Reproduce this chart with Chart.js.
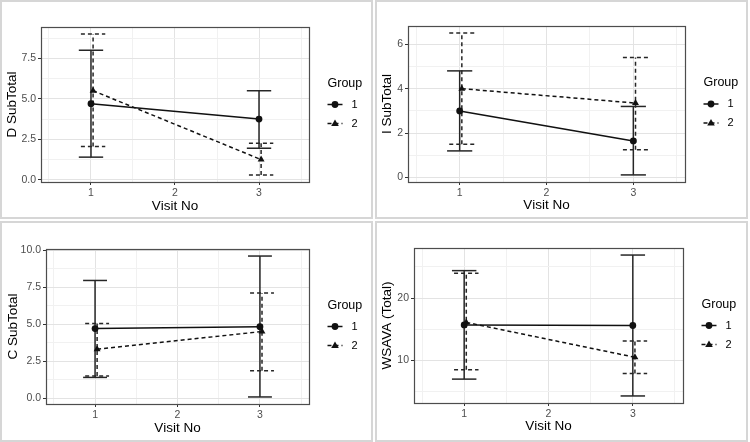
<!DOCTYPE html>
<html><head><meta charset="utf-8">
<script src="https://cdn.jsdelivr.net/npm/chart.js@4.4.1/dist/chart.umd.min.js"></script>
<style>
html,body{margin:0;padding:0;background:#fff;}
#wrap{position:relative;width:750px;height:442px;overflow:hidden;background:#fff;}
.frame{position:absolute;border:2px solid #d6d6d6;box-sizing:border-box;}
canvas{position:absolute;}
</style></head><body>
<div id="wrap">
  <div class="frame" style="left:0;top:0;width:373px;height:219px"></div>
  <div class="frame" style="left:375px;top:0;width:373px;height:219px"></div>
  <div class="frame" style="left:0;top:221px;width:373px;height:221px"></div>
  <div class="frame" style="left:375px;top:221px;width:373px;height:221px"></div>
  <canvas id="c1" width="375" height="221" style="left:0;top:0"></canvas>
  <canvas id="c2" width="375" height="221" style="left:375px;top:0"></canvas>
  <canvas id="c3" width="375" height="221" style="left:0;top:221px"></canvas>
  <canvas id="c4" width="375" height="221" style="left:375px;top:221px"></canvas>
</div>
<script>
// ---------- data ----------
const visits = [1, 3];
const groupNames = ['1', '2'];
const xLimits = [0.55, 3.45];
const xTickLabels = [1, 2, 3];

// D SubTotal
const dMean1 = [4.7, 3.75], dLow1 = [1.4, 1.95], dHigh1 = [8.0, 5.5];
const dMean2 = [5.5, 1.25], dLow2 = [2.05, 0.3], dHigh2 = [9.0, 2.25];
// I SubTotal
const iMean1 = [3.0, 1.65], iLow1 = [1.2, 0.12], iHigh1 = [4.8, 3.2];
const iMean2 = [4.0, 3.35], iLow2 = [1.5, 1.25], iHigh2 = [6.5, 5.4];
// C SubTotal
const cMean1 = [4.7, 4.83], cLow1 = [1.4, 0.08], cHigh1 = [7.95, 9.6];
const cMean2 = [3.3, 4.5], cLow2 = [1.5, 1.85], cHigh2 = [5.05, 7.1];
// WSAVA (Total)
const wMean1 = [15.7, 15.6], wLow1 = [7.0, 4.3], wHigh1 = [24.4, 26.9];
const wMean2 = [16.1, 10.5], wLow2 = [8.5, 7.9], wHigh2 = [24.0, 13.1];

// ---------- styling ----------
const FONT = "'Liberation Sans', Arial, Helvetica, sans-serif";
const DODGE = [0, 0.025];
const CAP = 0.29;
const DASH = [4, 3];
const INK = '#111111';
const LW = 1.5;

function isMult(v, m) { return Math.abs(v / m - Math.round(v / m)) < 1e-6; }

const errPlugin = {
  id: 'errbars',
  beforeDatasetsDraw(chart) {
    const {ctx, scales: {x, y}} = chart;
    chart.data.datasets.forEach((ds) => {
      ctx.save();
      ctx.strokeStyle = '#262626';
      ctx.lineWidth = LW;
      ctx.setLineDash(ds.borderDash || []);
      ds.data.forEach((p, k) => {
        const px = x.getPixelForValue(p.x);
        const xl = x.getPixelForValue(p.x - CAP / 2), xr = x.getPixelForValue(p.x + CAP / 2);
        const yl = y.getPixelForValue(ds.errLow[k]), yh = y.getPixelForValue(ds.errHigh[k]);
        ctx.beginPath();
        ctx.moveTo(px, yl); ctx.lineTo(px, yh);
        ctx.stroke();
        ctx.beginPath();
        ctx.moveTo(xl, yh); ctx.lineTo(xr, yh);
        ctx.stroke();
        ctx.beginPath();
        ctx.moveTo(xl, yl); ctx.lineTo(xr, yl);
        ctx.stroke();
      });
      ctx.restore();
    });
  },
  afterDraw(chart) {
    const {ctx, chartArea: a} = chart;
    ctx.save();
    ctx.strokeStyle = '#4d4d4d';
    ctx.lineWidth = 1.2;
    ctx.strokeRect(Math.round(a.left) + 0.5, Math.round(a.top) + 0.5,
                   Math.round(a.right - a.left), Math.round(a.bottom - a.top));
    // legend
    const lx = a.right + 18.5;
    const yc = (a.top + a.bottom) / 2;
    ctx.fillStyle = '#000';
    ctx.font = '12.5px ' + FONT;
    ctx.textBaseline = 'middle';
    ctx.textAlign = 'left';
    ctx.fillText('Group', lx, yc - 21);
    chart.data.datasets.forEach((ds, i) => {
      const ky = yc + i * 19;
      ctx.strokeStyle = INK;
      ctx.lineWidth = LW;
      ctx.setLineDash(ds.borderDash || []);
      ctx.beginPath(); ctx.moveTo(lx, ky); ctx.lineTo(lx + 15, ky); ctx.stroke();
      ctx.setLineDash([]);
      ctx.fillStyle = INK;
      const cx = lx + 7.5;
      ctx.beginPath();
      if (ds.pointStyle === 'triangle') {
        const r = 4;
        ctx.moveTo(cx, ky - r); ctx.lineTo(cx + r * 0.95, ky + r * 0.65); ctx.lineTo(cx - r * 0.95, ky + r * 0.65);
        ctx.closePath();
      } else {
        ctx.arc(cx, ky, 3.4, 0, Math.PI * 2);
      }
      ctx.fill();
      ctx.fillStyle = '#000';
      ctx.font = '11px ' + FONT;
      ctx.fillText(ds.label, lx + 24, ky);
    });
    ctx.restore();
  }
};

function series(label, mean, low, high, gi) {
  return {
    label: label,
    data: visits.map((v, k) => ({x: v + DODGE[gi], y: mean[k]})),
    errLow: low, errHigh: high,
    borderColor: INK, backgroundColor: INK,
    borderWidth: LW,
    borderDash: gi === 1 ? DASH : [],
    pointStyle: gi === 1 ? 'triangle' : 'circle',
    pointRadius: gi === 1 ? 4 : 3.4,
    pointBackgroundColor: INK, pointBorderColor: INK, pointBorderWidth: 0,
    showLine: true, tension: 0, clip: false
  };
}

function makePanel(id, yTitle, sets, box, yStep, yMajor, yFmt) {
  const lows = sets.flatMap(s => s.errLow), highs = sets.flatMap(s => s.errHigh);
  const lo = Math.min(...lows), hi = Math.max(...highs), r = hi - lo;
  const xr = xLimits[1] - xLimits[0];
  const gridColor = c => (c.tick && isMult(c.tick.value, c.scale.axis === 'x' ? 1 : yMajor)) ? '#e3e3e3' : '#f1f1f1';
  const tickColor = c => (c.tick && isMult(c.tick.value, c.scale.axis === 'x' ? 1 : yMajor)) ? '#333333' : 'rgba(0,0,0,0)';
  new Chart(document.getElementById(id), {
    type: 'line',
    data: {datasets: sets},
    options: {
      animation: false, responsive: false, devicePixelRatio: 1,
      layout: {padding: {left: 0, top: box.top, right: 375 - box.right, bottom: 0}},
      plugins: {legend: {display: false}, tooltip: {enabled: false}},
      scales: {
        x: {
          type: 'linear',
          min: xLimits[0] - 0.05 * xr, max: xLimits[1] + 0.05 * xr,
          afterFit: s => { s.height = 221 - box.bottom; },
          ticks: {stepSize: 0.5, includeBounds: false, autoSkip: false, maxRotation: 0,
                  padding: 1.5, color: '#4d4d4d', font: {family: FONT, size: 10.5},
                  callback: v => xTickLabels.includes(v) ? String(v) : ''},
          grid: {color: gridColor, lineWidth: 1, tickLength: 3, tickColor: tickColor, tickWidth: 1},
          border: {display: false},
          title: {display: true, text: 'Visit No', color: '#000',
                  font: {family: FONT, size: 13.5}, padding: {top: 0, bottom: box.xtPad}}
        },
        y: {
          type: 'linear',
          min: lo - 0.05 * r, max: hi + 0.05 * r,
          afterFit: s => { s.width = box.left; },
          ticks: {stepSize: yStep, includeBounds: false, autoSkip: false,
                  padding: 2, color: '#4d4d4d', font: {family: FONT, size: 10.5},
                  callback: v => isMult(v, yMajor) ? yFmt(v) : ''},
          grid: {color: gridColor, lineWidth: 1, tickLength: 3, tickColor: tickColor, tickWidth: 1},
          border: {display: false},
          title: {display: true, text: yTitle, color: '#000',
                  font: {family: FONT, size: 13.5}, padding: {top: box.ytPad, bottom: 0}}
        }
      }
    },
    plugins: [errPlugin]
  });
}

const f1 = v => v.toFixed(1), f0 = v => String(Math.round(v));

makePanel('c1', 'D SubTotal',
  [series(groupNames[0], dMean1, dLow1, dHigh1, 0), series(groupNames[1], dMean2, dLow2, dHigh2, 1)],
  {left: 41, top: 27, right: 309, bottom: 182, ytPad: 4.5, xtPad: 7}, 1.25, 2.5, f1);
makePanel('c2', 'I SubTotal',
  [series(groupNames[0], iMean1, iLow1, iHigh1, 0), series(groupNames[1], iMean2, iLow2, iHigh2, 1)],
  {left: 33, top: 26, right: 310, bottom: 182, ytPad: 4.5, xtPad: 7.5}, 1, 2, f0);
makePanel('c3', 'C SubTotal',
  [series(groupNames[0], cMean1, cLow1, cHigh1, 0), series(groupNames[1], cMean2, cLow2, cHigh2, 1)],
  {left: 46, top: 28, right: 309, bottom: 183, ytPad: 5, xtPad: 6}, 1.25, 2.5, f1);
makePanel('c4', 'WSAVA (Total)',
  [series(groupNames[0], wMean1, wLow1, wHigh1, 0), series(groupNames[1], wMean2, wLow2, wHigh2, 1)],
  {left: 39, top: 27, right: 308, bottom: 182, ytPad: 4.5, xtPad: 7.5}, 5, 10, f0);
</script>
</body></html>
